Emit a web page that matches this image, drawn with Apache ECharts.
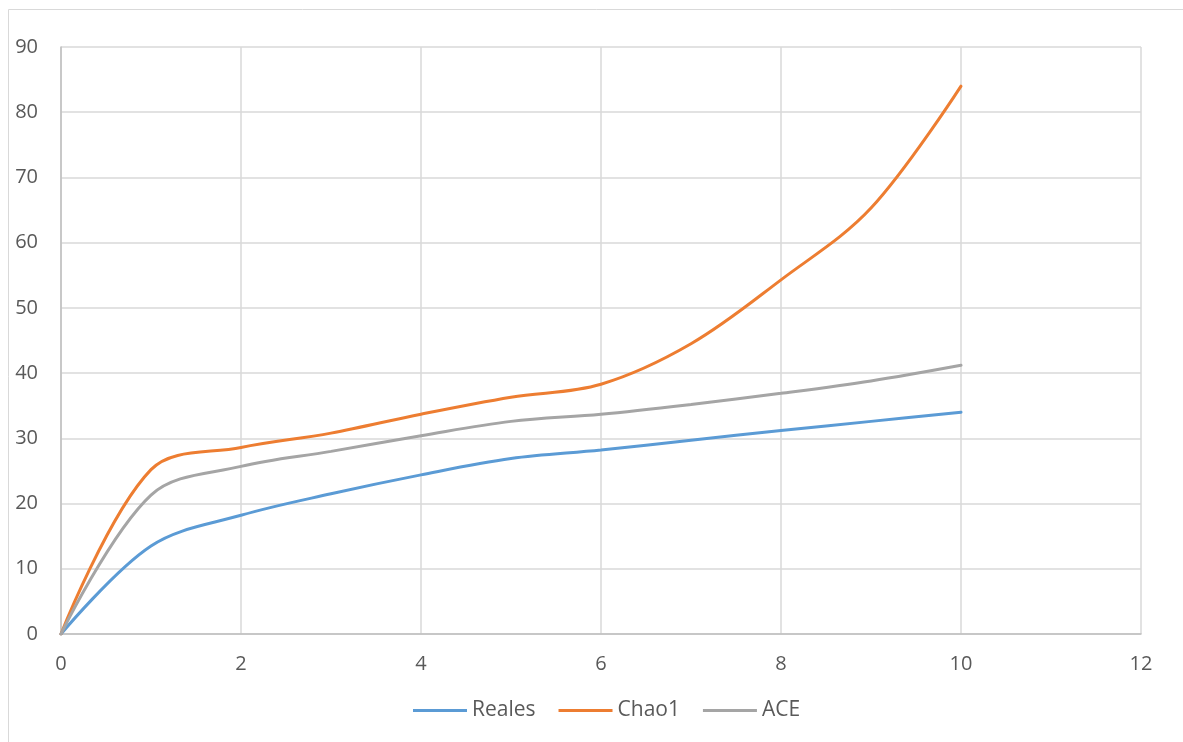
<!DOCTYPE html>
<html>
<head>
<meta charset="utf-8">
<script src="https://cdn.jsdelivr.net/npm/echarts@6/dist/echarts.min.js"></script>
<style>
html,body{margin:0;padding:0;background:#fff;}
#chart{width:1183px;height:742px;}
</style>
</head>
<body>
<div id="chart"></div>
<script>
const xValues = [0, 1, 2, 3, 4, 5, 6, 7, 8, 9, 10];
const reales = [0, 13.5, 18.2, 21.5, 24.4, 26.9, 28.2, 29.7, 31.2, 32.6, 34.0];
const chao1 = [0, 25.2, 28.6, 30.8, 33.7, 36.3, 38.3, 44.5, 54.3, 65.3, 84.0];
const ace = [0, 21.3, 25.7, 28.0, 30.4, 32.6, 33.7, 35.2, 36.9, 38.8, 41.2];
const seriesNames = ['Reales', 'Chao1', 'ACE'];
const colors = ['#5B9BD5', '#ED7D31', '#A5A5A5'];

const pairs = arr => xValues.map((x, i) => [x, arr[i]]);
const font = '"Open Sans", Lato, sans-serif';

const chart = echarts.init(document.getElementById('chart'));
chart.setOption({
  animation: false,
  color: colors,
  graphic: [{
    type: 'rect', silent: true, z: -10,
    shape: { x: 8.5, y: 9.5, width: 1300, height: 900 },
    style: { fill: 'none', stroke: '#d9d9d9', lineWidth: 1 }
  }],
  grid: { left: 61, top: 47, right: 42, bottom: 108, containLabel: false },
  xAxis: {
    type: 'value', min: 0, max: 12, interval: 2,
    axisLine: { show: true, lineStyle: { color: '#bfbfbf', width: 1.5 } },
    axisTick: { show: false },
    splitLine: { show: true, lineStyle: { color: '#d9d9d9', width: 1.5 } },
    axisLabel: { color: '#595959', fontSize: 20, fontFamily: font, margin: 20 }
  },
  yAxis: {
    type: 'value', min: 0, max: 90, interval: 10,
    axisLine: { show: true, lineStyle: { color: '#bfbfbf', width: 1.5 } },
    axisTick: { show: false },
    splitLine: { show: true, lineStyle: { color: '#d9d9d9', width: 1.5 } },
    axisLabel: { color: '#595959', fontSize: 20, fontFamily: font, margin: 23 }
  },
  legend: {
    bottom: 16, left: 408,
    icon: 'rect', itemWidth: 54, itemHeight: 3, itemGap: 23,
    textStyle: { color: '#595959', fontSize: 21, fontFamily: font },
    data: seriesNames
  },
  series: [
    { name: seriesNames[0], type: 'line', data: pairs(reales) },
    { name: seriesNames[1], type: 'line', data: pairs(chao1) },
    { name: seriesNames[2], type: 'line', data: pairs(ace) }
  ].map((s, i) => Object.assign(s, {
    smooth: 0.35, showSymbol: false, symbol: 'none',
    lineStyle: { width: 3, color: colors[i], cap: 'round' },
    itemStyle: { color: colors[i] }
  }))
});
</script>
</body>
</html>
